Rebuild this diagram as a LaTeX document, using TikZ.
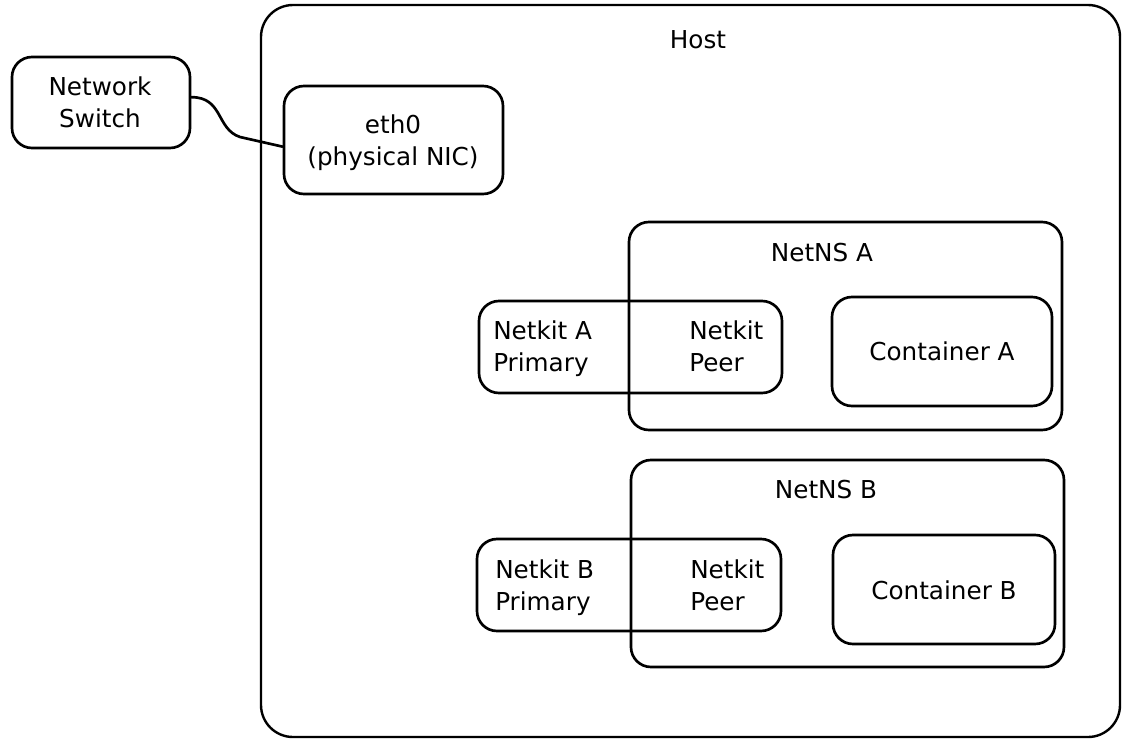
\documentclass[tikz,border=0pt]{standalone}
\usepackage{fontspec}
\setmainfont{DejaVu Sans}
\usetikzlibrary{fit}
\begin{document}
\begin{tikzpicture}[x=0.75pt,y=-0.75pt,
  box/.style={draw, line width=2pt, rounded corners=15pt, inner sep=0pt},
  bigbox/.style={box, line width=1.8pt, rounded corners=24pt},
  lbl/.style={inner sep=0pt, font=\fontsize{18.5}{24}\selectfont, align=center},
  llbl/.style={lbl, align=left, anchor=west},
  wire/.style={line width=2pt, line cap=round}]
\useasboundingbox (0,0) rectangle (1122,740);

\node[bigbox, fit={(261,5) (1120,737)}] (host) {};
\node[lbl] (hostlbl) at (698,40) {Host};

\node[box, fit={(12,57) (190,148)}] (sw) {};
\node[lbl] (swlbl) at (100,102) {Network\\Switch};
\node[box, fit={(284,86) (503,194)}] (eth) {};
\node[lbl] (ethlbl) at (393,143) {eth0\\(physical NIC)};

\draw[wire] ([yshift=4pt]sw.east) .. controls +(32,0) and +(-24,-8) .. (240,137) -- ([yshift=-5pt]eth.west);

% NetNS A
\node[box, fit={(629,222) (1062,430)}] (nsA) {};
\node[lbl] (nsAlbl) at (822,253) {NetNS A};
\node[box, fit={(479,301) (782,393)}] (nkA) {};
\node[llbl] (nkAp) at (493,349) {Netkit A\\Primary};
\node[llbl] (nkAq) at (689,346) {Netkit\\Peer};
\node[box, fit={(832,297) (1052,406)}] (ctA) {};
\node[lbl] (ctAlbl) at (942,351) {Container A};

% NetNS B
\node[box, fit={(631,460) (1064,667)}] (nsB) {};
\node[lbl] (nsBlbl) at (826,490) {NetNS B};
\node[box, fit={(477,539) (781,631)}] (nkB) {};
\node[llbl] (nkBp) at (495,588) {Netkit B\\Primary};
\node[llbl] (nkBq) at (690,585) {Netkit\\Peer};
\node[box, fit={(833,535) (1055,644)}] (ctB) {};
\node[lbl] (ctBlbl) at (944,590) {Container B};
\end{tikzpicture}
\end{document}
